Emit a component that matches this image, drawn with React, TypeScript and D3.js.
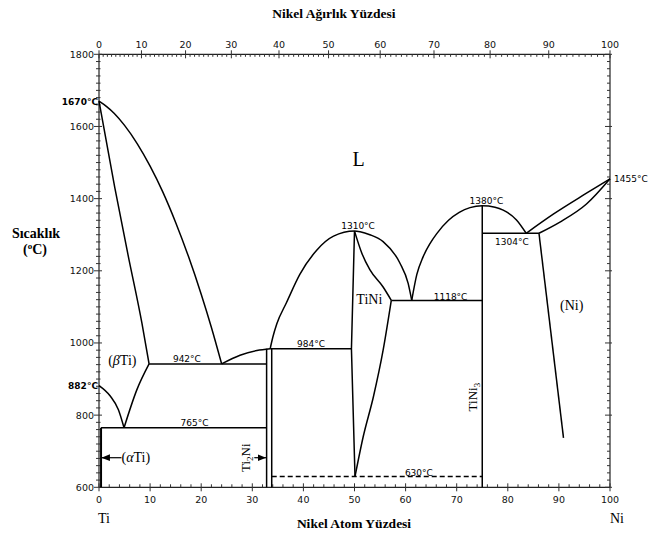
import React from "react";
import * as d3 from "d3";

type P = [number, number];

// ---- axis tick values ----
const tempMajor = [600, 800, 1000, 1200, 1400, 1600, 1800];
const atMajor = [0, 10, 20, 30, 40, 50, 60, 70, 80, 90, 100];
const wtMajor = [0, 10, 20, 30, 40, 50, 60, 70, 80, 90, 100];

// ---- phase boundaries (at% Ni, °C) ----
const liquidusTi: P[] = [[0, 1670], [1.5, 1655], [3, 1636], [5, 1603], [7.5, 1552], [10, 1490], [12.5, 1418], [15, 1334], [17.5, 1240], [20, 1135], [22, 1043], [24, 942]];
const solidusBetaTi: P[] = [[0, 1670], [3.1, 1430], [5.7, 1243], [8.4, 1055], [9.8, 942]];
const solvusBetaTi: P[] = [[4.9, 765], [7.4, 870], [9.8, 942]];
const transusTi: P[] = [[0, 882], [2.2, 853], [3.8, 815], [4.9, 765]];
const liquidusTi2Ni: P[] = [[24, 942], [27.6, 966], [30.9, 979], [33.5, 984]];
const liquidusTiNiLeft: P[] = [[33.5, 984], [34.0, 1015], [34.8, 1053], [36.7, 1112], [39.3, 1190], [42.6, 1257], [45.9, 1296], [50, 1310]];
const liquidusTiNiRight: P[] = [[50, 1310], [51.1, 1308], [53.0, 1300], [55.6, 1281], [58.9, 1221], [60.5, 1165], [61.2, 1118]];
const tiNiLeft: P[] = [[50, 1310], [49.4, 984], [50.1, 630]];
const tiNiSolidusRight: P[] = [[50, 1310], [51.4, 1250], [53.0, 1203], [55.6, 1155], [57.2, 1118]];
const tiNiSolvusRight: P[] = [[50.1, 630], [51.7, 740], [53.7, 851], [55.6, 980], [57.2, 1118]];
const liquidusTiNi3: P[] = [[61.2, 1118], [62.2, 1190], [63.4, 1238], [64.8, 1276], [66.1, 1303], [68.4, 1340], [70.5, 1362], [72.6, 1375], [75, 1380], [77.5, 1376], [79.1, 1368], [81.7, 1341], [83.6, 1304]];
const liquidusNi: P[] = [[83.6, 1304], [88.9, 1357], [95.4, 1415], [100, 1455]];
const solidusNi: P[] = [[86.1, 1304], [90.2, 1335], [95.4, 1385], [100, 1455]];
const solvusNi: P[] = [[86.1, 1304], [90.9, 737]];
const ti2NiLineA: P[] = [[32.8, 984], [32.8, 600]];
const ti2NiLineB: P[] = [[33.8, 984], [33.8, 600]];
const tiNi3Line: P[] = [[75, 1380], [75, 600]];
const alphaTiLine: P[] = [[0.4, 765], [0.4, 600]];
const iso765: P[] = [[0.4, 765], [32.8, 765]];
const iso942: P[] = [[9.8, 942], [32.8, 942]];
const iso984: P[] = [[33.5, 984], [49.4, 984]];
const iso1118: P[] = [[57.2, 1118], [75, 1118]];
const iso1304: P[] = [[75, 1304], [86.1, 1304]];
const iso630: P[] = [[33.8, 630], [75, 630]];

// ---- annotations: [text, at%, °C] ----
const tempLabels: [string, number, number][] = [
  ["942°C", 17.2, 948],
  ["765°C", 18.7, 771],
  ["984°C", 41.5, 990],
  ["1310°C", 50.7, 1316],
  ["1118°C", 68.8, 1120],
  ["1380°C", 75.8, 1386],
  ["1304°C", 80.8, 1272],
  ["630°C", 62.6, 632],
];

const x = d3.scaleLinear().domain([0, 100]).range([99, 610]);
const y = d3.scaleLinear().domain([600, 1800]).range([487.3, 54.3]);

// weight% Ni -> atomic% Ni (Ni 58.69, Ti 47.87) for the top axis
const wtToAt = (w: number) => {
  const n = w / 58.69;
  const t = (100 - w) / 47.87;
  return (100 * n) / (n + t);
};

const smooth = d3.line<P>().x((d) => x(d[0])).y((d) => y(d[1])).curve(d3.curveMonotoneX);
const straight = d3.line<P>().x((d) => x(d[0])).y((d) => y(d[1]));

const curves = [
  liquidusTi,
  solidusBetaTi,
  solvusBetaTi,
  transusTi,
  liquidusTi2Ni,
  liquidusTiNiLeft.concat(liquidusTiNiRight.slice(1)),
  tiNiSolidusRight,
  tiNiSolvusRight,
  liquidusTiNi3,
  liquidusNi,
  solidusNi,
];
const lines = [tiNiLeft, solvusNi, ti2NiLineA, ti2NiLineB, tiNi3Line, iso765, iso942, iso984, iso1118, iso1304];

const NUM = "'DejaVu Sans', sans-serif";
const SERIF = "'Liberation Serif', 'Times New Roman', serif";

export default function App() {
  const tempMinor = d3.range(600, 1801, 20).filter((t) => t % 200 !== 0);
  const atMinor = d3.range(0, 101, 2).filter((v) => v % 10 !== 0);
  const wtMinor = d3.range(0, 101, 1).filter((v) => v % 10 !== 0);
  const x0 = x(0), x1 = x(100), y0 = y(600), y1 = y(1800);
  return (
    <svg width={649} height={535} style={{ position: "absolute", left: 0, top: 0, background: "#fff" }}>
      <defs>
        <marker id="ah" viewBox="0 0 10 10" refX="10" refY="5" markerWidth="7" markerHeight="7" orient="auto-start-reverse">
          <path d="M0,1 L10,5 L0,9 z" fill="#000" />
        </marker>
      </defs>
      <rect width={649} height={535} fill="#fff" />
      {/* frame */}
      <g stroke="#222" strokeWidth={1.2} fill="none">
        <line x1={x0} x2={x0} y1={y1} y2={y0} />
        <line x1={x1} x2={x1} y1={y1} y2={y0} />
        <line x1={x0} x2={x1} y1={y0} y2={y0} />
        <line x1={x0} x2={x1} y1={y1} y2={y1} />
      </g>
      {/* ticks */}
      <g stroke="#333" strokeWidth={1}>
        {tempMajor.map((t) => <line key={"lm" + t} x1={x0 - 5} x2={x0 + 3} y1={y(t)} y2={y(t)} />)}
        {tempMinor.map((t) => <line key={"ln" + t} x1={x0 - 3} x2={x0 + 1.5} y1={y(t)} y2={y(t)} />)}
        {tempMajor.map((t) => <line key={"rm" + t} x1={x1 - 5} x2={x1 + 2} y1={y(t)} y2={y(t)} />)}
        {tempMinor.map((t) => <line key={"rn" + t} x1={x1 - 3} x2={x1} y1={y(t)} y2={y(t)} />)}
        {atMajor.map((v) => <line key={"bm" + v} x1={x(v)} x2={x(v)} y1={y0 - 4} y2={y0 + 4} />)}
        {atMinor.map((v) => <line key={"bn" + v} x1={x(v)} x2={x(v)} y1={y0 - 3} y2={y0} />)}
        {wtMajor.map((v) => <line key={"tm" + v} x1={x(wtToAt(v))} x2={x(wtToAt(v))} y1={y1 - 4} y2={y1 + 4} />)}
        {wtMinor.map((v) => <line key={"tn" + v} x1={x(wtToAt(v))} x2={x(wtToAt(v))} y1={y1} y2={y1 + 2.5} />)}
      </g>
      <g fontFamily={NUM} fontSize={9.5} fill="#111">
        {tempMajor.map((t) => (
          <text key={"tl" + t} x={x0 - 5} y={y(t) + 3.4} textAnchor="end">{t}</text>
        ))}
        {atMajor.map((v) => (
          <text key={"bl" + v} x={x(v)} y={y0 + 16} textAnchor="middle">{v}</text>
        ))}
        {wtMajor.map((v) => (
          <text key={"wl" + v} x={x(wtToAt(v))} y={y1 - 6} textAnchor="middle">{v}</text>
        ))}
      </g>
      {/* phase boundaries */}
      <g stroke="#000" strokeWidth={1.5} fill="none">
        {curves.map((c, i) => <path key={"c" + i} d={smooth(c) || ""} />)}
        {lines.map((c, i) => <path key={"l" + i} d={straight(c) || ""} />)}
        <path d={straight(alphaTiLine) || ""} strokeWidth={2} />
        <path d={straight(iso630) || ""} strokeDasharray="5,3" />
      </g>
      {/* temperature annotations */}
      <g fontFamily={NUM} fontSize={9} fill="#000">
        {tempLabels.map(([s, a, t]) => (
          <text key={s} x={x(a)} y={y(t)} textAnchor="middle">{s}</text>
        ))}
        <text x={x0 - 1} y={y(1670) + 4} textAnchor="end" fontWeight="bold">1670°C</text>
        <text x={x0 - 1} y={y(882) + 3.5} textAnchor="end" fontWeight="bold">882°C</text>
        <text x={x1 + 4} y={y(1455) + 3.5} textAnchor="start">1455°C</text>
      </g>
      {/* phase labels */}
      <g fontFamily={SERIF} fill="#000">
        <text x={x(50.8)} y={y(1490)} fontSize={20} textAnchor="middle">L</text>
        <text x={x(52.9)} y={y(1108)} fontSize={14} textAnchor="middle">TiNi</text>
        <text x={x(92.5)} y={y(1092)} fontSize={14} textAnchor="middle">(Ni)</text>
        <text x={x(1.8)} y={y(940)} fontSize={14} textAnchor="start">(<tspan fontStyle="italic">β</tspan>Ti)</text>
        <text x={x(4.4)} y={y(670)} fontSize={14} textAnchor="start">(<tspan fontStyle="italic">α</tspan>Ti)</text>
        <text x={98} y={523} fontSize={14}>Ti</text>
        <text x={610} y={523} fontSize={14}>Ni</text>
        <text transform={`translate(${x(28.8) + 4},${y(682)}) rotate(-90)`} fontSize={13} textAnchor="middle">
          Ti<tspan fontSize={9} dy={3}>2</tspan><tspan dy={-3}>Ni</tspan>
        </text>
        <text transform={`translate(${x(73.2) + 4},${y(850)}) rotate(-90)`} fontSize={13} textAnchor="middle">
          TiNi<tspan fontSize={9} dy={3}>3</tspan>
        </text>
      </g>
      {/* arrows */}
      <g stroke="#000" strokeWidth={1.2}>
        <line x1={x(4.4)} x2={x(0.5)} y1={y(682)} y2={y(682)} markerEnd="url(#ah)" />
        <line x1={x(30.4)} x2={x(32.7)} y1={y(682)} y2={y(682)} markerEnd="url(#ah)" />
      </g>
      {/* titles */}
      <g fontFamily={SERIF} fontWeight="bold" fill="#000">
        <text x={334} y={18} fontSize={13.5} textAnchor="middle">Nikel Ağırlık Yüzdesi</text>
        <text x={354} y={528} fontSize={13.5} textAnchor="middle">Nikel Atom Yüzdesi</text>
        <text x={36} y={238} fontSize={14} textAnchor="middle">Sıcaklık</text>
        <text x={35} y={254} fontSize={14} textAnchor="middle">(<tspan fontSize={9} dy={-5}>o</tspan><tspan dy={5}>C)</tspan></text>
      </g>
    </svg>
  );
}
